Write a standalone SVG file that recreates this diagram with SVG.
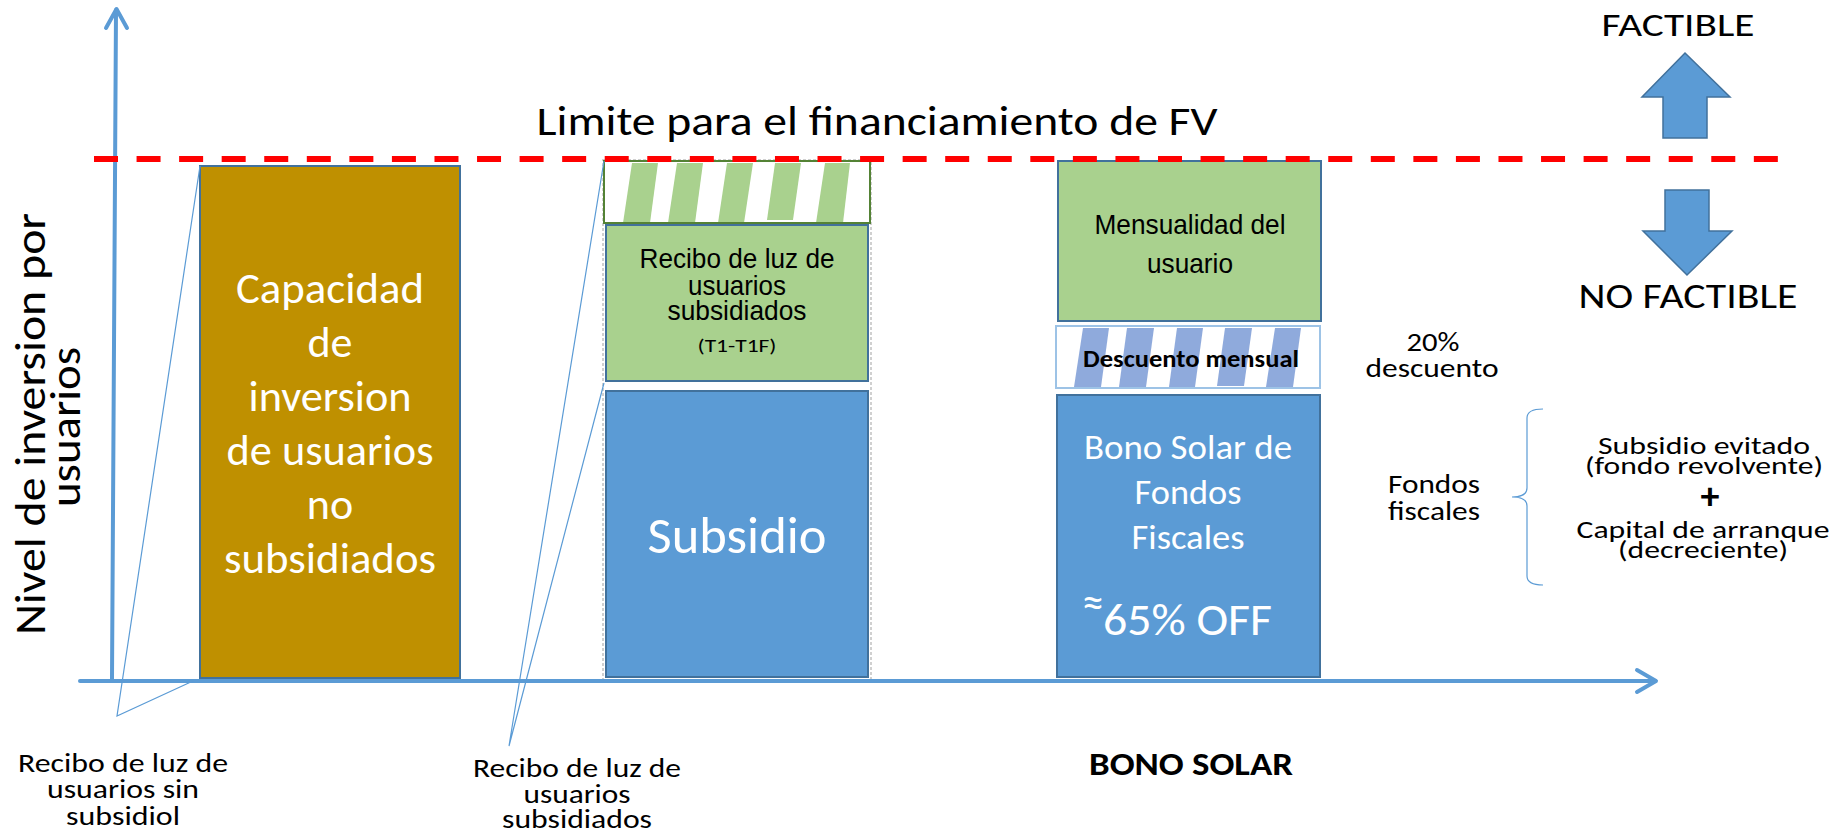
<svg xmlns="http://www.w3.org/2000/svg" width="1842" height="834" viewBox="0 0 1842 834">
<style>
.c{font-family:Carlito,Lato,"Open Sans",sans-serif;fill:#000}
.a{font-family:"Liberation Sans",Arial,sans-serif;fill:#000}
.w{fill:#fff}
.m{text-anchor:middle}
.b{font-weight:bold}
.ax{stroke:#5B9BD5;stroke-width:4;fill:none;stroke-linecap:round;stroke-linejoin:round}
.co{stroke:#5B9BD5;stroke-width:1.2;fill:none}
.box{stroke:#41719C;stroke-width:2}
.gs{fill:#A9D18E}
.bs{fill:#8FAADC}
.arr{fill:#5B9BD5;stroke:#41719C;stroke-width:1.5}
</style>
<rect width="1842" height="834" fill="#fff"/>

<g id="title">
  <text class="c m" x="877" y="135" font-size="42" textLength="681" lengthAdjust="spacingAndGlyphs">Limite para el financiamiento de FV</text>
</g>

<g id="y-label">
  <text class="c m" transform="translate(45,424) rotate(-90)" font-size="44" textLength="422" lengthAdjust="spacingAndGlyphs">Nivel de inversion por</text>
  <text class="c m" transform="translate(80,427) rotate(-90)" font-size="44" textLength="160" lengthAdjust="spacingAndGlyphs">usuarios</text>
</g>

<g id="capacidad">
  <rect class="box" x="200" y="166" width="260" height="512" fill="#BF9000"/>
  <g font-size="44">
    <text class="c w m" x="330" y="303" textLength="188" lengthAdjust="spacingAndGlyphs">Capacidad</text>
    <text class="c w m" x="330" y="357">de</text>
    <text class="c w m" x="330" y="411" textLength="163" lengthAdjust="spacingAndGlyphs">inversion</text>
    <text class="c w m" x="330" y="465" textLength="207" lengthAdjust="spacingAndGlyphs">de usuarios</text>
    <text class="c w m" x="330" y="519">no</text>
    <text class="c w m" x="330" y="573" textLength="212" lengthAdjust="spacingAndGlyphs">subsidiados</text>
  </g>
</g>

<g id="subsidiados-column">
  <rect x="603" y="160" width="268" height="520" fill="none" stroke="#D0D0D0" stroke-width="2" stroke-dasharray="3 2"/>
  <g id="hatch-green">
    <rect x="604" y="161" width="266" height="62" fill="#fff"/>
    <polygon class="gs" points="632,163 658,163 650,223 623,223"/>
    <polygon class="gs" points="677,163 703,163 695,223 668,223"/>
    <polygon class="gs" points="727,163 753,163 744,223 718,223"/>
    <polygon class="gs" points="775,163 801,163 793,220 767,220"/>
    <polygon class="gs" points="825,163 850,163 843,223 816,223"/>
    <rect x="604" y="161" width="266" height="62" fill="none" stroke="#548235" stroke-width="2"/>
  </g>
  <g id="recibo-subsidiados">
    <rect class="box" x="606" y="225" width="262" height="156" fill="#A9D18E"/>
    <text class="a m" x="737" y="268" font-size="28" textLength="195" lengthAdjust="spacingAndGlyphs">Recibo de luz de</text>
    <text class="a m" x="737" y="295" font-size="28" textLength="98" lengthAdjust="spacingAndGlyphs">usuarios</text>
    <text class="a m" x="737" y="320" font-size="28" textLength="139" lengthAdjust="spacingAndGlyphs">subsidiados</text>
    <text class="c m" x="737" y="352" font-size="18" textLength="79" lengthAdjust="spacingAndGlyphs">(T1-T1F)</text>
  </g>
  <g id="subsidio">
    <rect class="box" x="606" y="391" width="262" height="286" fill="#5B9BD5"/>
    <text class="c w m" x="737" y="553" font-size="52" textLength="179" lengthAdjust="spacingAndGlyphs">Subsidio</text>
  </g>
</g>

<g id="bono-column">
  <g id="mensualidad">
    <rect class="box" x="1058" y="161" width="263" height="160" fill="#A9D18E"/>
    <text class="a m" x="1190" y="234" font-size="28" textLength="191" lengthAdjust="spacingAndGlyphs">Mensualidad del</text>
    <text class="a m" x="1190" y="273" font-size="28" textLength="86" lengthAdjust="spacingAndGlyphs">usuario</text>
  </g>
  <g id="descuento">
    <rect x="1056" y="326" width="264" height="62" fill="#fff"/>
    <polygon class="bs" points="1083,328 1109,328 1101,387 1074,387"/>
    <polygon class="bs" points="1127,328 1154,328 1146,387 1119,387"/>
    <polygon class="bs" points="1177,328 1203,328 1195,387 1169,387"/>
    <polygon class="bs" points="1225,328 1252,328 1244,386 1217,386"/>
    <polygon class="bs" points="1275,328 1301,328 1293,387 1266,387"/>
    <rect x="1056" y="326" width="264" height="62" fill="none" stroke="#9DC3E6" stroke-width="2"/>
    <text class="c m b" x="1191" y="367" font-size="24" textLength="216" lengthAdjust="spacingAndGlyphs">Descuento mensual</text>
  </g>
  <g id="bono-fondos">
    <rect class="box" x="1057" y="395" width="263" height="282" fill="#5B9BD5"/>
    <text class="c w m" x="1188" y="459" font-size="34" textLength="208" lengthAdjust="spacingAndGlyphs">Bono Solar de</text>
    <text class="c w m" x="1188" y="504" font-size="34" textLength="107" lengthAdjust="spacingAndGlyphs">Fondos</text>
    <text class="c w m" x="1188" y="549" font-size="34" textLength="113" lengthAdjust="spacingAndGlyphs">Fiscales</text>
    <text class="c w" x="1082" y="617" font-size="44">≈</text>
    <text class="c w" x="1103" y="635" font-size="46" textLength="169" lengthAdjust="spacingAndGlyphs">65% OFF</text>
  </g>
</g>

<g id="descuento-label">
  <text class="c m" x="1433" y="351" font-size="26" textLength="53" lengthAdjust="spacingAndGlyphs">20%</text>
  <text class="c m" x="1432" y="377" font-size="26" textLength="133" lengthAdjust="spacingAndGlyphs">descuento</text>
</g>

<g id="fondos-fiscales">
  <text class="c m" x="1434" y="493" font-size="26" textLength="92" lengthAdjust="spacingAndGlyphs">Fondos</text>
  <text class="c m" x="1434" y="520" font-size="26" textLength="92" lengthAdjust="spacingAndGlyphs">fiscales</text>
</g>

<g id="fuentes">
  <text class="c m" x="1704" y="454" font-size="25" textLength="212" lengthAdjust="spacingAndGlyphs">Subsidio evitado</text>
  <text class="c m" x="1704" y="474" font-size="25" textLength="238" lengthAdjust="spacingAndGlyphs">(fondo revolvente)</text>
  <text class="c m b" x="1710" y="509" font-size="38">+</text>
  <text class="c m" x="1703" y="538" font-size="25" textLength="253" lengthAdjust="spacingAndGlyphs">Capital de arranque</text>
  <text class="c m" x="1703" y="558" font-size="25" textLength="170" lengthAdjust="spacingAndGlyphs">(decreciente)</text>
</g>

<g id="factible">
  <text class="c m" x="1678" y="36" font-size="33" textLength="153" lengthAdjust="spacingAndGlyphs">FACTIBLE</text>
  <polygon class="arr" points="1685,53 1730,97 1707,97 1707,138 1663,138 1663,97 1642,97"/>
</g>

<g id="no-factible">
  <polygon class="arr" points="1665,190 1709,190 1709,231 1732,231 1687,275 1643,231 1665,231"/>
  <text class="c m" x="1688" y="308" font-size="35" textLength="219" lengthAdjust="spacingAndGlyphs">NO FACTIBLE</text>
</g>

<g id="bono-solar-label">
  <text class="c m b" x="1191" y="775" font-size="32" textLength="204" lengthAdjust="spacingAndGlyphs">BONO SOLAR</text>
</g>

<g id="label-sin-subsidio">
  <text class="c m" x="123" y="772" font-size="26" textLength="210" lengthAdjust="spacingAndGlyphs">Recibo de luz de</text>
  <text class="c m" x="123" y="798" font-size="26" textLength="152" lengthAdjust="spacingAndGlyphs">usuarios sin</text>
  <text class="c m" x="123" y="825" font-size="26" textLength="114" lengthAdjust="spacingAndGlyphs">subsidiol</text>
</g>

<g id="label-subsidiados">
  <text class="c m" x="577" y="777" font-size="26" textLength="208" lengthAdjust="spacingAndGlyphs">Recibo de luz de</text>
  <text class="c m" x="577" y="803" font-size="26" textLength="107" lengthAdjust="spacingAndGlyphs">usuarios</text>
  <text class="c m" x="577" y="828" font-size="26" textLength="150" lengthAdjust="spacingAndGlyphs">subsidiados</text>
</g>

<g id="connectors">
  <line class="ax" x1="112" y1="679" x2="116" y2="10"/>
  <polyline class="ax" points="106,28 116.5,9 127,28"/>
  <line class="ax" x1="80" y1="681" x2="1655" y2="681"/>
  <polyline class="ax" points="1637,670 1656,681 1637,692"/>
  <line x1="94" y1="159" x2="1778" y2="159" stroke="#FF0000" stroke-width="6" stroke-dasharray="24 18.56"/>
  <polyline class="co" points="200,166 117,716 193,681"/>
  <polyline class="co" points="604,161 509,746 604,383"/>
  <path class="co" d="M1543,409 Q1527,409 1527,418 L1527,488 Q1527,497 1512,497 Q1527,497 1527,506 L1527,576 Q1527,585 1543,585"/>
</g>
</svg>
